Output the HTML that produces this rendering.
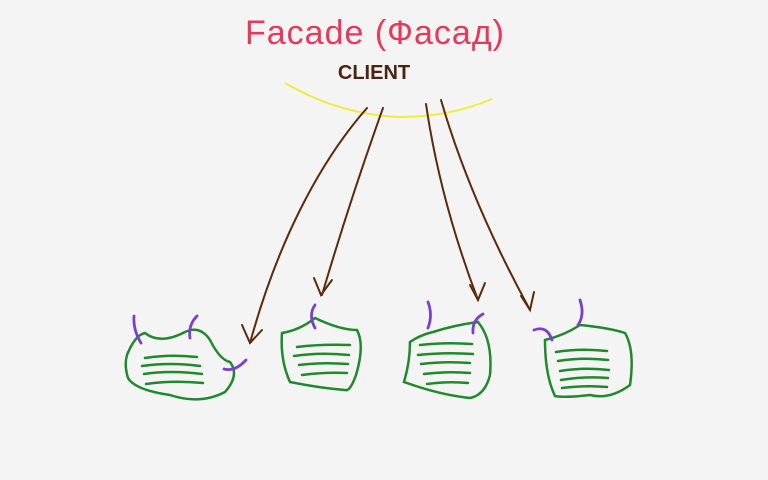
<!DOCTYPE html>
<html><head><meta charset="utf-8"><style>
html,body{margin:0;padding:0;background:#f4f4f4;}
svg{display:block}
</style></head><body>
<svg width="768" height="480" viewBox="0 0 768 480" xmlns="http://www.w3.org/2000/svg">
<rect width="768" height="480" fill="#f4f4f4"/>
<text x="375" y="44" text-anchor="middle" font-family="Liberation Sans, sans-serif" font-size="34" fill="#e8385c" style="letter-spacing:1px">Facade (Фасад)</text>
<text x="374" y="79" text-anchor="middle" font-family="Liberation Sans, sans-serif" font-size="20" font-weight="bold" fill="#4a2410">CLIENT</text>
<path d="M285 83 Q340 115 400 117 Q450 117 492 99" fill="none" stroke="#f1ec3c" stroke-width="2"/>
<g fill="none" stroke="#5a2a0a" stroke-width="2" stroke-linecap="round">
<path d="M367 108 Q330 150 300 210 Q270 270 250 343"/><path d="M242 325 L250 343 L262 330"/>
<path d="M383 108 Q350 200 322 295"/><path d="M314 278 L321 295 L332 280"/>
<path d="M426 104 Q440 200 478 300"/><path d="M470 285 L478 300 L485 283"/>
<path d="M441 100 Q470 200 530 310"/><path d="M521 296 L530 310 L534 292"/>
</g>
<g fill="none" stroke="#1f8a2c" stroke-width="2.5" stroke-linecap="round">
<path d="M127 355 Q135 335 145 333 Q160 345 185 332 Q200 325 210 340 Q220 360 230 362 Q240 375 225 392 Q200 405 170 395 Q135 390 128 378 Q124 365 127 355Z"/>
<path d="M145 358 Q170 354 197 357"/><path d="M142 366 Q170 362 200 366"/><path d="M144 374 Q170 370 202 374"/><path d="M146 384 Q172 380 203 383"/>
<path d="M282 333 Q300 330 315 318 Q340 330 357 330 Q365 345 356 375 Q350 392 345 390 Q320 388 290 382 Q280 360 282 333Z"/>
<path d="M297 347 Q320 344 350 345"/><path d="M294 356 Q320 352 349 355"/><path d="M299 365 Q322 362 348 364"/><path d="M302 375 Q325 372 347 373"/>
<path d="M410 342 Q420 335 433 332 Q455 325 478 322 Q493 340 490 375 Q485 395 470 398 Q440 395 404 382 Q410 362 410 342Z"/>
<path d="M420 345 Q445 342 472 344"/><path d="M418 355 Q445 352 473 354"/><path d="M421 364 Q445 361 470 363"/><path d="M424 374 Q448 371 470 373"/><path d="M427 384 Q448 381 468 383"/>
<path d="M545 340 Q565 335 580 325 Q610 328 625 333 Q635 350 630 385 Q610 400 590 395 Q565 398 555 396 Q545 375 545 340Z"/>
<path d="M556 352 Q580 348 607 351"/><path d="M558 361 Q582 357 608 360"/><path d="M560 371 Q584 367 609 370"/><path d="M561 380 Q585 376 608 378"/><path d="M562 388 Q585 385 607 387"/>
</g>
<g fill="none" stroke="#7a3fd0" stroke-width="2.8" stroke-linecap="round">
<path d="M134 316 Q133 330 141 343"/><path d="M197 316 Q188 325 190 338"/><path d="M246 360 Q235 372 224 369"/>
<path d="M315 305 Q308 315 315 328"/>
<path d="M428 302 Q433 315 428 328"/><path d="M483 314 Q472 320 473 333"/>
<path d="M580 300 Q585 315 578 325"/><path d="M534 330 Q547 325 552 340"/>
</g>
</svg>
</body></html>
